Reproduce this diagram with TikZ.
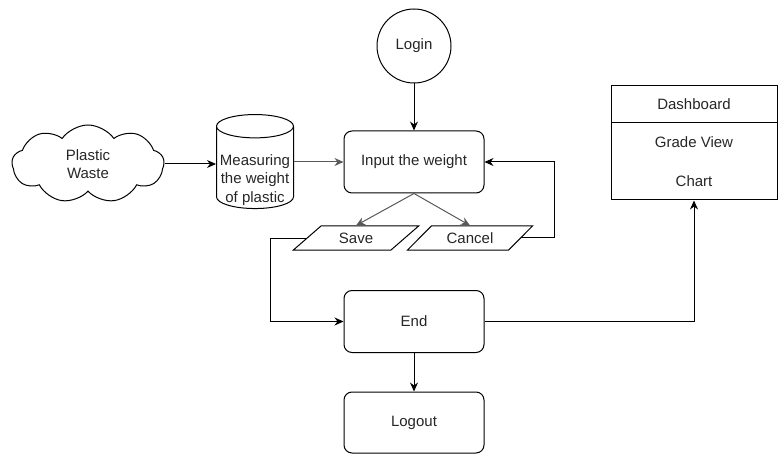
\documentclass[tikz,border=0pt]{standalone}
\usepackage{fontspec}
\setmainfont{Liberation Sans}
\usepackage{tikz}
\usetikzlibrary{arrows.meta, shapes.geometric, shapes.symbols}

\begin{document}
\begin{tikzpicture}
[
    x = 1pt, y = -1pt,
    every node/.style={font=\fontsize{15}{18}\selectfont, text=black!85},
    box/.style={draw, rounded corners = 8pt, minimum width = 140pt, minimum height = 62pt, line width = 1pt},
    io/.style={draw, trapezium, trapezium left angle = 47, trapezium right angle = 133, trapezium stretches = true, minimum width = 126pt, minimum height = 24pt, line width = 1pt},
    panel/.style={draw, minimum width = 166pt, line width = 1pt},
    arrow/.style={draw, -{Stealth[length = 9pt, width = 8pt]}, line width = 1pt},
    greyarrow/.style={arrow, color = black!65},
]
\useasboundingbox (0,0) rectangle (778,454);

% Shapes of the flow
\node[draw, circle, minimum size = 74pt, line width = 1pt] (login) at (414,46) {Login};
\node[box] (input) at (414,162) {Input the weight};
\node[draw, cloud, cloud puffs = 9, cloud puff arc = 110, aspect = 2, minimum width = 152pt, minimum height = 78pt, line width = 1pt, align = center] (waste) at (88,164) {Plastic\\Waste};
\node[draw, cylinder, shape border rotate = 90, aspect = 3.5, minimum width = 77pt, minimum height = 94pt, line width = 1pt] (measure) at (255,170) {};
\node[align = center, font = \fontsize{15}{18.5}\selectfont] (measuretext) at (255,180) {Measuring\\the weight\\of plastic};
\node[io] (save) at (356,238) {Save};
\node[io] (cancel) at (470,238) {Cancel};
\node[box] (fin) at (414,321.5) {End};
\node[box, minimum height = 61pt] (logout) at (414,422.5) {Logout};

% Dashboard panel
\node[panel, minimum height = 37pt] (dash) at (694,104.5) {Dashboard};
\node[panel, minimum height = 77pt, align = center] (dashbody) at (694,161.5) {Grade View\\[21pt]Chart};

% Connectors
\draw[arrow] (login) -- (input);
\draw[arrow] (waste.east) -- (measure.west |- waste.east);
\draw[greyarrow] (measure.east |- input.west) -- (input.west);
\draw[greyarrow] (input.south) -- (save.north);
\draw[greyarrow] (input.south) -- (cancel.north);
\draw[arrow] (cancel.east) -- ++(33,0) |- (input.east);
\draw[arrow] (save.west) -- ++(-36,0) |- (fin.west);
\draw[arrow] (fin) -- (logout);
\draw[arrow] (fin.east) -| (dashbody.south);
\end{tikzpicture}
\end{document}
